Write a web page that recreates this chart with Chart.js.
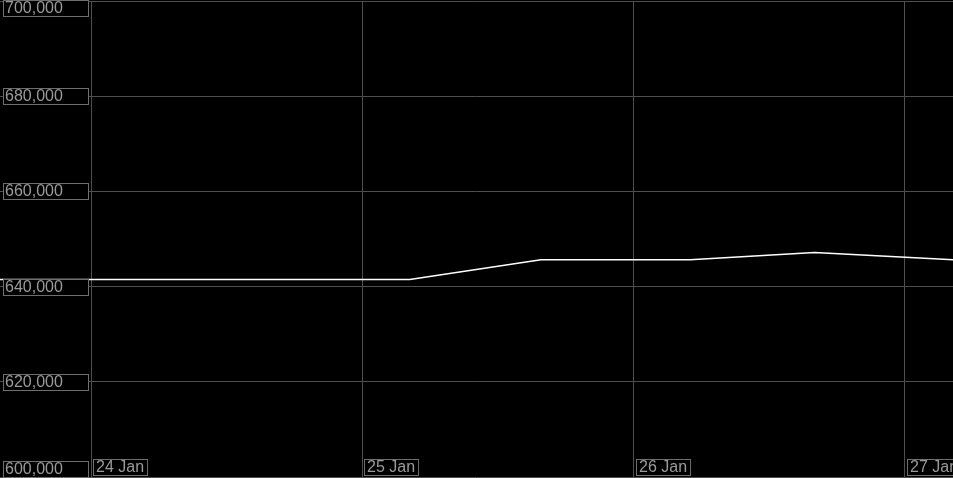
<!DOCTYPE html>
<html>
<head>
<meta charset="utf-8">
<script src="https://cdn.jsdelivr.net/npm/chart.js@4.4.1/dist/chart.umd.min.js"></script>
<style>
html,body{margin:0;padding:0;background:#000;overflow:hidden}
#wrap{position:relative;width:953px;height:478px}
</style>
</head>
<body>
<div id="wrap"><canvas id="c" width="953" height="478"></canvas></div>
<script>
// Hours since 24 Jan 00:00
const hours = [-10, 28.2, 39.8, 53, 64, 78];
const values = [641500, 641500, 645620, 645620, 647150, 645450];
const dayTicks = [0, 24, 48, 72];
const dayLabels = ['24 Jan', '25 Jan', '26 Jan', '27 Jan'];
const yTicks = [600000, 620000, 640000, 660000, 680000, 700000];
const yLabels = ['600,000', '620,000', '640,000', '660,000', '680,000', '700,000'];

const FONT = '16px "Liberation Sans", Arial, sans-serif';
const TEXT = '#9a9a9a';
const BOX = '#6e6e6e';
const GRID = '#4e4e4e';

const bgPlugin = {
  id: 'bg',
  beforeDraw(chart) {
    const ctx = chart.ctx;
    ctx.save();
    ctx.fillStyle = '#000';
    ctx.fillRect(0, 0, chart.width, chart.height);
    ctx.restore();
  }
};

const labelPlugin = {
  id: 'boxLabels',
  afterDraw(chart) {
    const ctx = chart.ctx;
    const xs = chart.scales.x, ys = chart.scales.y;
    ctx.save();
    ctx.font = FONT;
    ctx.textBaseline = 'middle';
    ctx.lineWidth = 1;
    // y labels
    yTicks.forEach((v, i) => {
      const py = ys.getPixelForValue(v);
      let top = Math.round(py - 8);
      if (top < 0) top = 0;
      if (top + 16 > chart.height - 1) top = chart.height - 17;
      ctx.fillStyle = '#000';
      ctx.fillRect(3, top, 85, 16);
      ctx.strokeStyle = BOX;
      ctx.strokeRect(3.5, top + 0.5, 85, 16);
      ctx.fillStyle = TEXT;
      ctx.textAlign = 'left';
      ctx.fillText(yLabels[i], 5, top + 9);
    });
    // x labels
    dayTicks.forEach((h, i) => {
      const px = xs.getPixelForValue(h);
      const w = ctx.measureText(dayLabels[i]).width;
      const left = Math.round(px) + 2;
      const top = 459;
      ctx.fillStyle = '#000';
      ctx.fillRect(left, top, w + 6, 16);
      ctx.strokeStyle = BOX;
      ctx.strokeRect(left + 0.5, top + 0.5, w + 6, 16);
      ctx.fillStyle = TEXT;
      ctx.textAlign = 'left';
      ctx.fillText(dayLabels[i], left + 3, top + 9);
    });
    ctx.restore();
  }
};

new Chart(document.getElementById('c'), {
  type: 'line',
  data: {
    datasets: [{
      data: hours.map((h, i) => ({x: h, y: values[i]})),
      borderColor: '#ffffff',
      borderWidth: 1.5,
      pointRadius: 0,
      tension: 0,
      fill: false
    }]
  },
  options: {
    responsive: false,
    animation: false,
    events: [],
    layout: {padding: {top: 1, bottom: 1, left: 0, right: 0}},
    plugins: {legend: {display: false}, tooltip: {enabled: false}},
    scales: {
      x: {
        type: 'linear',
        min: -8.05,
        max: 76.25,
        afterBuildTicks(s) { s.ticks = dayTicks.map(v => ({value: v})); },
        ticks: {display: false},
        grid: {color: GRID, lineWidth: 1, drawTicks: false, tickLength: 0},
        border: {display: false}
      },
      y: {
        min: 600000,
        max: 700000,
        afterBuildTicks(s) { s.ticks = yTicks.map(v => ({value: v})); },
        ticks: {display: false},
        grid: {color: GRID, lineWidth: 1, drawTicks: false, tickLength: 0},
        border: {display: false}
      }
    }
  },
  plugins: [bgPlugin, labelPlugin]
});
</script>
</body>
</html>
